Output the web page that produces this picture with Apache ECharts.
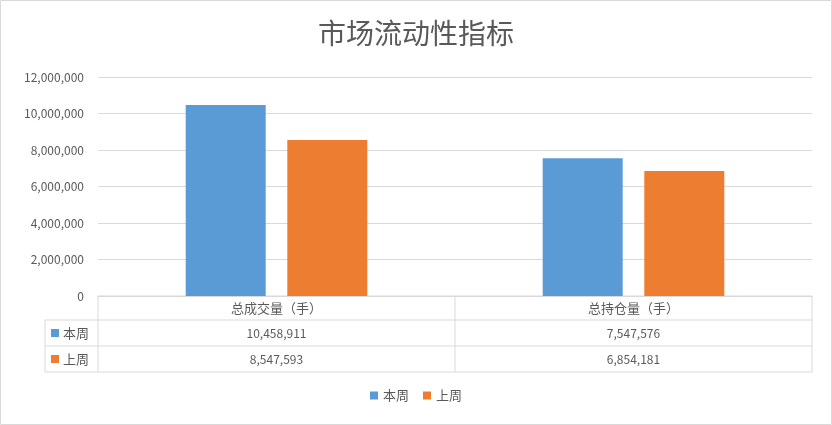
<!DOCTYPE html>
<html>
<head>
<meta charset="utf-8">
<script src="https://cdn.jsdelivr.net/npm/echarts@6/dist/echarts.min.js"></script>
<style>html,body{margin:0;padding:0;background:#fff}#c{width:832px;height:425px}</style>
</head>
<body>
<div id="c"></div>
<script>
var categories = ['总成交量（手）', '总持仓量（手）'];
var seriesNames = ['本周', '上周'];
var thisWeek = [10458911, 7547576];
var lastWeek = [8547593, 6854181];
var colors = ['#5b9bd5', '#ed7d31'];

var font = '"Noto Sans CJK SC", "Microsoft YaHei", sans-serif';
var fmt = function (v) { return Number(v).toLocaleString('en-US'); };

var chart = echarts.init(document.getElementById('c'));

// data table under the plot
var L = 98, R = 812, T = 296, rowH = [24, 26, 26], keyL = 45;
var midX = (L + R) / 2;
var lineStyle = { stroke: '#d9d9d9', lineWidth: 1 };
var g = [];
var y1 = T + rowH[0], y2 = y1 + rowH[1], y3 = y2 + rowH[2];
[[L, T, R, T], [keyL, y1, R, y1], [keyL, y2, R, y2], [keyL, y3, R, y3],
 [L, T, L, y3], [midX, T, midX, y3], [R, T, R, y3], [keyL, y1, keyL, y3]].forEach(function (p) {
  g.push({ type: 'line', shape: { x1: p[0], y1: p[1], x2: p[2], y2: p[3] }, style: lineStyle, silent: true });
});
var colW = (R - L) / categories.length;
categories.forEach(function (c, i) {
  g.push({ type: 'text', x: L + colW * (i + 0.5), y: T + rowH[0] / 2,
    style: { text: c, align: 'center', verticalAlign: 'middle', fill: '#595959', font: '13px ' + font } });
});
[thisWeek, lastWeek].forEach(function (vals, r) {
  var cy = (r === 0 ? y1 : y2) + rowH[r + 1] / 2;
  g.push({ type: 'rect', shape: { x: keyL + 6, y: cy - 4, width: 8, height: 8 }, style: { fill: colors[r] } });
  g.push({ type: 'text', x: keyL + 18, y: cy,
    style: { text: seriesNames[r], verticalAlign: 'middle', fill: '#595959', font: '13px ' + font } });
  vals.forEach(function (v, i) {
    g.push({ type: 'text', x: L + colW * (i + 0.5), y: cy,
      style: { text: fmt(v), align: 'center', verticalAlign: 'middle', fill: '#595959', font: '12px ' + font } });
  });
});
g.push({ type: 'rect', shape: { x: 0.5, y: 0.5, width: 831, height: 424 },
  style: { fill: 'none', stroke: '#d9d9d9', lineWidth: 1 }, silent: true, z: -1 });

chart.setOption({
  color: colors,
  animation: false,
  title: {
    text: '市场流动性指标', left: 'center', top: 14,
    textStyle: { fontFamily: font, fontSize: 28, fontWeight: 'normal', color: '#595959' }
  },
  legend: {
    data: seriesNames, bottom: 18, left: 'center', icon: 'rect', itemWidth: 8, itemHeight: 8, itemGap: 14,
    textStyle: { fontFamily: font, fontSize: 13, color: '#595959' }
  },
  grid: { left: L, right: 832 - R, top: 77, bottom: 425 - T, containLabel: false },
  xAxis: {
    type: 'category', data: categories,
    axisLine: { lineStyle: { color: '#d9d9d9' } },
    axisTick: { show: false }, axisLabel: { show: false }
  },
  yAxis: {
    type: 'value', min: 0, max: 12000000, interval: 2000000,
    axisLine: { show: false }, axisTick: { show: false },
    splitLine: { lineStyle: { color: '#d9d9d9' } },
    axisLabel: { formatter: fmt, color: '#595959', fontFamily: font, fontSize: 12, margin: 14 }
  },
  series: [
    { name: seriesNames[0], type: 'bar', data: thisWeek, barWidth: 80, barGap: '27%' },
    { name: seriesNames[1], type: 'bar', data: lastWeek, barWidth: 80, barGap: '27%' }
  ],
  graphic: g
});
</script>
</body>
</html>
